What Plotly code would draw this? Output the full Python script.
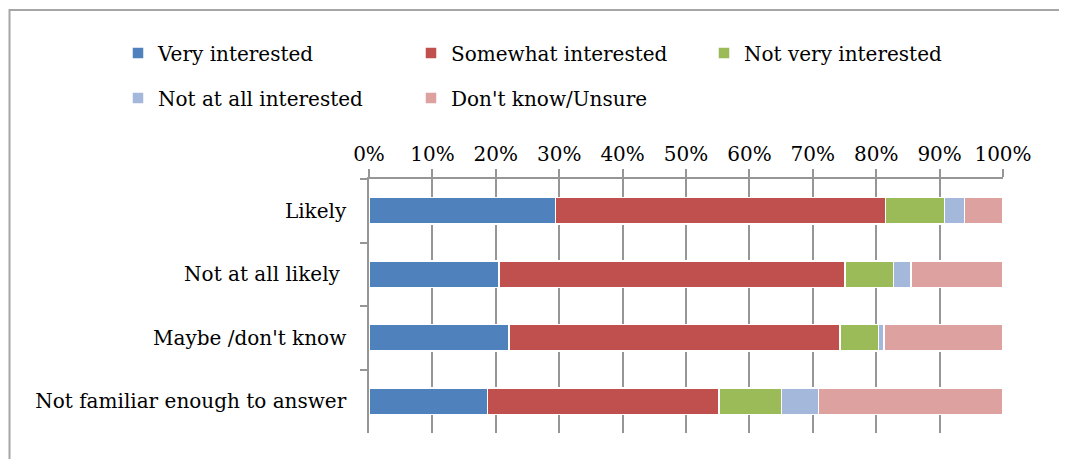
import plotly.graph_objects as go

categories = ["Likely", "Not at all likely ", "Maybe /don't know", "Not familiar enough to answer"]
series_names = ["Very interested", "Somewhat interested", "Not very interested",
                "Not at all interested", "Don't know/Unsure"]
very_interested = [29.4, 20.5, 22.1, 18.7]
somewhat_interested = [52.1, 54.6, 52.2, 36.5]
not_very_interested = [9.3, 7.6, 6.1, 9.9]
not_at_all_interested = [3.1, 2.8, 0.8, 5.8]
dont_know = [6.1, 14.5, 18.8, 29.1]
x_ticks = [0, 10, 20, 30, 40, 50, 60, 70, 80, 90, 100]

values = [very_interested, somewhat_interested, not_very_interested,
          not_at_all_interested, dont_know]
colors = ["#4F81BD", "#C0504D", "#9BBB59", "#A4B8DC", "#DDA1A0"]
legend_ids = ["legend", "legend", "legend", "legend2", "legend2"]

FONT = "DejaVu Serif"
FS = 20
OFF = 8  # page body margin

fig = go.Figure()
for name, vals, col, lg in zip(series_names, values, colors, legend_ids):
    fig.add_trace(go.Bar(
        y=categories, x=vals, name=name, orientation="h",
        marker=dict(color=col, line=dict(color="white", width=1.5)),
        legend=lg,
    ))

W, H = 1067, 459
L, R, T, B = 369 - OFF, 64 + OFF, 179 - OFF, 26 + OFF
pw, ph = W - L - R, H - T - B

def px_x(px):
    return (px - OFF - L) / pw

def px_y(py):
    return 1 + (T - (py - OFF)) / ph

fig.update_layout(
    width=W, height=H,
    margin=dict(l=L, r=R, t=T, b=B, autoexpand=False),
    barmode="stack", bargap=0.58,
    paper_bgcolor="white", plot_bgcolor="white",
    font=dict(family=FONT, size=FS, color="black"),
    xaxis=dict(
        side="top", range=[0, 100], tickvals=x_ticks,
        ticktext=[f"{v}%" for v in x_ticks],
        showgrid=True, gridcolor="#969696", gridwidth=1.5,
        showline=True, linecolor="#969696", linewidth=1.5,
        ticks="outside", ticklen=8, tickcolor="#969696", tickwidth=1.5,
        zeroline=False, fixedrange=True,
    ),
    yaxis=dict(
        categoryorder="array", categoryarray=categories,
        autorange="reversed",
        showline=True, linecolor="#969696", linewidth=1.5,
        ticks="outside", ticklen=7, tickcolor="#969696", tickwidth=1.5,
        tickson="boundaries", ticklabelstandoff=17,
        showgrid=False, zeroline=False, fixedrange=True,
    ),
    legend=dict(
        orientation="h", x=px_x(118), xanchor="left",
        y=px_y(53), yanchor="middle",
        entrywidth=248, entrywidthmode="pixels",
        font=dict(family=FONT, size=FS), bgcolor="rgba(0,0,0,0)",
        traceorder="normal",
    ),
    legend2=dict(
        orientation="h", x=px_x(118), xanchor="left",
        y=px_y(98), yanchor="middle",
        entrywidth=248, entrywidthmode="pixels",
        font=dict(family=FONT, size=FS), bgcolor="rgba(0,0,0,0)",
        traceorder="normal",
    ),
    shapes=[dict(
        type="rect", xref="paper", yref="paper",
        x0=px_x(9.5), x1=px_x(1063), y0=px_y(500), y1=px_y(10),
        line=dict(color="#A6A6A6", width=2), layer="below",
    )],
)

fig.write_html("out.html")
